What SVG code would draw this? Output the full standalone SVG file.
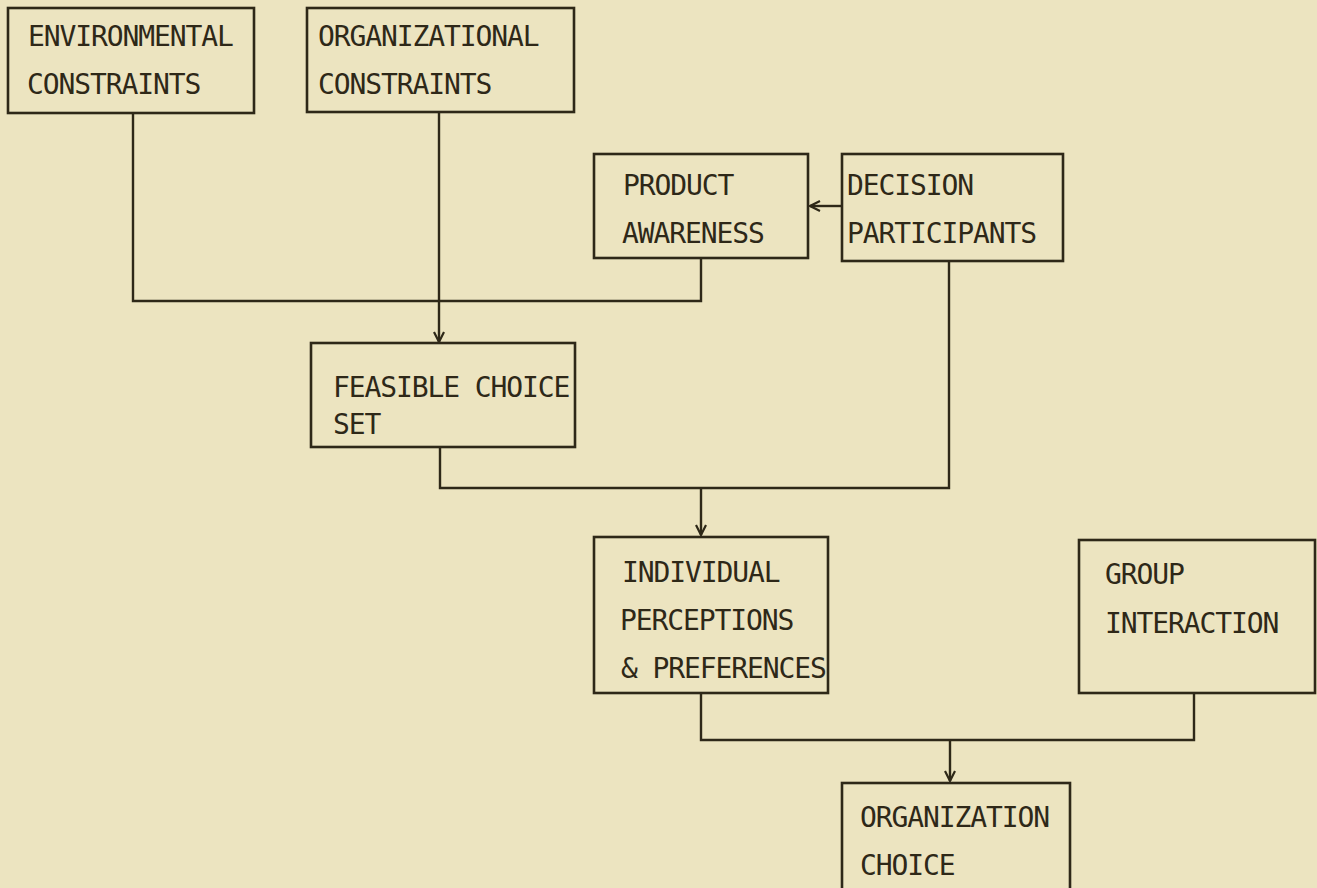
<svg xmlns="http://www.w3.org/2000/svg" width="1317" height="888" viewBox="0 0 1317 888">
<defs>
<marker id="arr" viewBox="0 0 12 12" refX="11" refY="6" markerWidth="12" markerHeight="12" markerUnits="userSpaceOnUse" orient="auto">
<path d="M1,1 L11,6 L1,11" fill="none" stroke="#2e2818" stroke-width="2.2"/>
</marker>
<style>
.box{fill:none;stroke:#2e2818;stroke-width:2.6}
.t{font-family:"DejaVu Sans Mono","Liberation Mono",monospace;font-size:28px;letter-spacing:-1.1px;fill:#2e2818}
.c{fill:none;stroke:#2e2818;stroke-width:2.4}
</style>
</defs>
<rect width="1317" height="888" fill="#ece4c0"/>
<g id="connectors">
<polyline class="c" points="133,112 133,301 701,301 701,258"/>
<line class="c" x1="439" y1="112" x2="439" y2="342" marker-end="url(#arr)"/>
<line class="c" x1="842" y1="206" x2="810" y2="206" marker-end="url(#arr)"/>
<polyline class="c" points="440,447 440,488 949,488 949,261"/>
<line class="c" x1="701" y1="488" x2="701" y2="535" marker-end="url(#arr)"/>
<polyline class="c" points="701,693 701,740 1194,740 1194,693"/>
<line class="c" x1="950" y1="740" x2="950" y2="781" marker-end="url(#arr)"/>
</g>
<g id="env"><rect class="box" x="8" y="8" width="246" height="105"/><text class="t" x="28" y="46">ENVIRONMENTAL</text><text class="t" x="27" y="94">CONSTRAINTS</text></g>
<g id="org"><rect class="box" x="307" y="8" width="267" height="104"/><text class="t" x="318" y="46">ORGANIZATIONAL</text><text class="t" x="318" y="94">CONSTRAINTS</text></g>
<g id="product"><rect class="box" x="594" y="154" width="214" height="104"/><text class="t" x="623" y="195">PRODUCT</text><text class="t" x="622" y="243">AWARENESS</text></g>
<g id="decision"><rect class="box" x="842" y="154" width="221" height="107"/><text class="t" x="847" y="195">DECISION</text><text class="t" x="847" y="243">PARTICIPANTS</text></g>
<g id="feasible"><rect class="box" x="311" y="343" width="264" height="104"/><text class="t" x="333" y="397">FEASIBLE CHOICE</text><text class="t" x="333" y="434">SET</text></g>
<g id="individual"><rect class="box" x="594" y="537" width="234" height="156"/><text class="t" x="622" y="582">INDIVIDUAL</text><text class="t" x="620" y="630">PERCEPTIONS</text><text class="t" x="621" y="678">&amp; PREFERENCES</text></g>
<g id="group"><rect class="box" x="1079" y="540" width="236" height="153"/><text class="t" x="1105" y="584">GROUP</text><text class="t" x="1105" y="633">INTERACTION</text></g>
<g id="orgchoice"><rect class="box" x="842" y="783" width="228" height="120"/><text class="t" x="860" y="827">ORGANIZATION</text><text class="t" x="860" y="875">CHOICE</text></g>
</svg>
